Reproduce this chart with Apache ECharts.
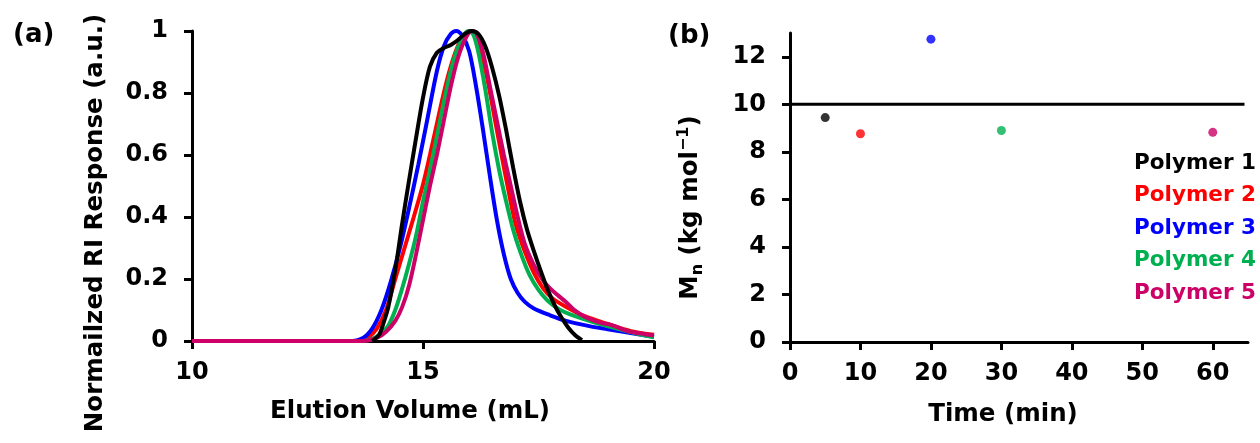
<!DOCTYPE html>
<html>
<head>
<meta charset="utf-8">
<script src="https://cdn.jsdelivr.net/npm/echarts@6/dist/echarts.min.js"></script>
<style>
html,body{margin:0;padding:0;background:#fff;}
#chart{width:1260px;height:443px;}
</style>
</head>
<body>
<div id="chart"></div>
<script>
// ---- Panel (a): normalized RI traces [elution volume (mL), response] ----
const polymer1Trace = [[13.9,0],[14.05,0.02],[14.15,0.06],[14.25,0.11],[14.4,0.23],[14.55,0.38],[14.7,0.52],[14.85,0.655],[15.0,0.785],[15.15,0.885],[15.3,0.93],[15.45,0.945],[15.6,0.955],[15.75,0.97],[15.9,0.99],[16.05,1.0],[16.2,0.99],[16.35,0.95],[16.5,0.88],[16.65,0.79],[16.8,0.68],[16.95,0.56],[17.1,0.45],[17.25,0.36],[17.4,0.29],[17.55,0.225],[17.7,0.165],[17.85,0.115],[18.0,0.075],[18.15,0.042],[18.3,0.018],[18.44,0.003]];
const polymer2Trace = [[10,0],[13.6,0],[13.8,0.01],[14.0,0.04],[14.2,0.1],[14.4,0.2],[14.6,0.3],[14.8,0.4],[15.0,0.505],[15.15,0.6],[15.3,0.7],[15.45,0.8],[15.6,0.885],[15.75,0.95],[15.9,0.99],[16.02,1.0],[16.12,0.99],[16.25,0.94],[16.4,0.84],[16.55,0.72],[16.7,0.6],[16.85,0.485],[17.0,0.38],[17.2,0.29],[17.4,0.22],[17.6,0.17],[17.8,0.138],[18.1,0.11],[18.5,0.08],[19.0,0.055],[19.5,0.032],[20,0.02]];
const polymer3Trace = [[10,0],[13.4,0],[13.7,0.01],[13.9,0.04],[14.1,0.1],[14.3,0.19],[14.5,0.3],[14.7,0.43],[14.9,0.57],[15.1,0.72],[15.3,0.87],[15.45,0.95],[15.6,0.99],[15.72,1.0],[15.85,0.985],[16.0,0.935],[16.15,0.82],[16.3,0.68],[16.45,0.53],[16.6,0.39],[16.75,0.28],[16.9,0.2],[17.05,0.155],[17.2,0.127],[17.4,0.105],[17.75,0.083],[18.1,0.065],[18.6,0.048],[19.0,0.038],[19.4,0.028],[20,0.014]];
const polymer4Trace = [[10,0],[13.7,0],[13.95,0.01],[14.1,0.025],[14.25,0.05],[14.4,0.1],[14.55,0.17],[14.7,0.25],[14.85,0.34],[15.0,0.45],[15.15,0.55],[15.3,0.66],[15.45,0.77],[15.6,0.87],[15.75,0.945],[15.9,0.99],[16.0,1.0],[16.1,0.985],[16.2,0.93],[16.35,0.81],[16.5,0.67],[16.65,0.55],[16.8,0.45],[16.95,0.36],[17.1,0.29],[17.3,0.215],[17.5,0.165],[17.7,0.13],[17.95,0.102],[18.2,0.085],[18.7,0.06],[19.2,0.04],[19.6,0.025],[20,0.012]];
const polymer5Trace = [[10,0],[13.7,0],[14.0,0.01],[14.2,0.03],[14.4,0.065],[14.55,0.11],[14.7,0.18],[14.85,0.28],[15.0,0.39],[15.15,0.5],[15.3,0.6],[15.45,0.71],[15.6,0.82],[15.75,0.91],[15.9,0.97],[16.05,1.0],[16.15,0.995],[16.3,0.93],[16.45,0.82],[16.6,0.71],[16.75,0.6],[16.9,0.5],[17.05,0.4],[17.2,0.315],[17.4,0.245],[17.6,0.195],[17.75,0.17],[17.9,0.15],[18.1,0.125],[18.3,0.097],[18.5,0.078],[18.7,0.066],[18.9,0.057],[19.05,0.053],[19.2,0.045],[19.45,0.031],[19.8,0.022],[20,0.018]];

// ---- Panel (b): Mn vs time ----
const seriesNames = ['Polymer 1','Polymer 2','Polymer 3','Polymer 4','Polymer 5'];
const seriesColors = ['#000000','#FF0000','#0000FF','#00B050','#CC0066'];
const timeMin = [5, 10, 20, 30, 60];
const mnKg = [9.44, 8.76, 12.74, 8.90, 8.82];
const targetLineX = [0, 64.5];
const targetLineY = [10, 10];

const leftXTicks = {min:10, max:20, interval:5};
const leftYTicks = {min:0, max:1, interval:0.2};
const rightXTicks = {min:0, max:65, interval:10};
const rightYTicks = {min:0, max:13, interval:2};

const FONT = 'DejaVu Sans';
const tickStyle = {color:'#000', fontFamily:FONT, fontWeight:'bold', fontSize:24};
const titleStyle = {color:'#000', fontFamily:FONT, fontWeight:'bold', fontSize:24.5};
const axisLine = {show:true, lineStyle:{color:'#000', width:3}};
const axisTick = {show:true, inside:false, length:8, lineStyle:{color:'#000', width:3}};

const traces = [polymer1Trace, polymer2Trace, polymer3Trace, polymer4Trace, polymer5Trace];
const drawOrder = [1, 2, 3, 4, 0];

const series = [];
drawOrder.forEach((i, k) => {
  series.push({
    name: seriesNames[i], type:'line', xAxisIndex:0, yAxisIndex:0,
    data: traces[i], showSymbol:false, smooth:0.3, z: 2 + k,
    lineStyle:{color:seriesColors[i], width: 4},
    itemStyle:{color:seriesColors[i]}, animation:false
  });
});
series.push({
  name:'target', type:'line', xAxisIndex:1, yAxisIndex:1,
  data: targetLineX.map((x, j) => [x, targetLineY[j]]),
  showSymbol:false, lineStyle:{color:'#000', width:3}, animation:false, z:2
});
seriesNames.forEach((n, i) => {
  series.push({
    name:n, type:'scatter', xAxisIndex:1, yAxisIndex:1,
    data:[[timeMin[i], mnKg[i]]], symbol:'circle', symbolSize:9,
    itemStyle:{color:seriesColors[i]}, animation:false, z:5
  });
});

const chart = echarts.init(document.getElementById('chart'), null, {renderer:'canvas'});
chart.setOption({
  animation:false,
  backgroundColor:'#fff',
  title:[
    {text:'(a)', left:13, top:22, padding:0, textStyle:{color:'#000', fontFamily:FONT, fontWeight:'bold', fontSize:26}},
    {text:'(b)', left:668, top:23, padding:0, textStyle:{color:'#000', fontFamily:FONT, fontWeight:'bold', fontSize:26}}
  ],
  legend:{
    orient:'vertical', right:4, top:150, icon:'none', itemWidth:0, itemHeight:0, itemGap:6,
    padding:0, selectedMode:false,
    textStyle:{fontFamily:FONT, fontWeight:'bold', fontSize:21.5, lineHeight:26.5},
    data: seriesNames.map((n, i) => ({name:n, textStyle:{color:seriesColors[i]}}))
  },
  grid:[
    {left:192, top:31, width:462, height:310},
    {left:790, top:33, width:458, height:309}
  ],
  xAxis:[
    {gridIndex:0, type:'value', min:leftXTicks.min, max:leftXTicks.max, interval:leftXTicks.interval,
     axisLine, axisTick, splitLine:{show:false},
     axisLabel:Object.assign({margin:20}, tickStyle),
     name:'Elution Volume (mL)', nameLocation:'middle', nameGap:58,
     nameTextStyle:Object.assign({padding:[0,26,0,0]}, titleStyle)},
    {gridIndex:1, type:'value', min:rightXTicks.min, max:rightXTicks.max, interval:rightXTicks.interval,
     axisLine, axisTick, splitLine:{show:false},
     axisLabel:Object.assign({margin:20, showMaxLabel:false}, tickStyle),
     name:'Time (min)', nameLocation:'middle', nameGap:60,
     nameTextStyle:Object.assign({padding:[0,32,0,0]}, titleStyle)}
  ],
  yAxis:[
    {gridIndex:0, type:'value', min:leftYTicks.min, max:leftYTicks.max, interval:leftYTicks.interval,
     axisLine, axisTick, splitLine:{show:false},
     axisLabel:Object.assign({margin:24}, tickStyle),
     name:'Normailzed RI Response (a.u.)', nameLocation:'middle', nameGap:84, nameRotate:90,
     nameTextStyle:Object.assign({padding:[0,74,0,0]}, titleStyle)},
    {gridIndex:1, type:'value', min:rightYTicks.min, max:rightYTicks.max, interval:rightYTicks.interval,
     axisLine, axisTick, splitLine:{show:false},
     axisLabel:Object.assign({margin:24}, tickStyle),
     name:'{b|M}{s|n}{b| (kg mol}{p|\u22121}{b|)}', nameLocation:'middle', nameGap:84, nameRotate:90,
     nameTextStyle:{color:'#000', fontFamily:FONT, fontWeight:'bold', fontSize:24.5, padding:[0,40,0,0],
       rich:{
         b:{color:'#000', fontFamily:FONT, fontWeight:'bold', fontSize:24.5, lineHeight:30},
         s:{color:'#000', fontFamily:FONT, fontWeight:'bold', fontSize:16, lineHeight:14, verticalAlign:'bottom'},
         p:{color:'#000', fontFamily:FONT, fontWeight:'bold', fontSize:16, lineHeight:14, verticalAlign:'top'}
       }}}
  ],
  series
});
</script>
</body>
</html>
